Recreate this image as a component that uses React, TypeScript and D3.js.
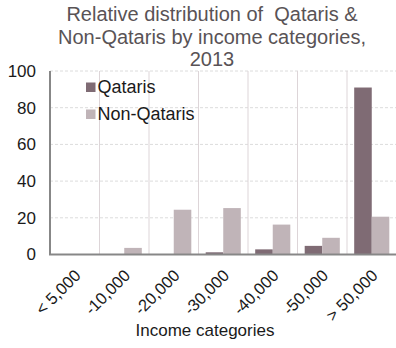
import React from 'react';
import * as d3 from 'd3';

const categories = ['< 5,000', '-10,000', '-20,000', '-30,000', '-40,000', '-50,000', '> 50,000'];
const seriesNames = ['Qataris', 'Non-Qataris'];
const qataris = [0, 0, 0, 1.2, 2.8, 4.7, 91];
const nonQataris = [0, 3.6, 24.4, 25.3, 16.3, 9.1, 20.6];
const yTicks = [0, 20, 40, 60, 80, 100];
const titleLines = ['Relative distribution of  Qataris &', 'Non-Qataris by income categories,', '2013'];
const xTitle = 'Income categories';

const W = 396;
const H = 348;
const FONT = '"Liberation Sans", Arial, sans-serif';
const colors = ['#7f6b74', '#c0b4b8'];

export default function App() {
  const left = 50;
  const right = 396.5;
  const top = 71;
  const bottom = 254.5;

  const x = d3.scaleBand<string>().domain(categories).range([left, right]).paddingInner(0).paddingOuter(0);
  const xs = d3.scaleBand<string>().domain(seriesNames).range([0, x.bandwidth()]).paddingInner(0).paddingOuter(0.41);
  const y = d3.scaleLinear().domain([0, 100]).range([bottom, top]);

  const series = [qataris, nonQataris];

  return (
    <svg width={W} height={H} style={{ position: 'absolute', left: 0, top: 0, background: '#fff' }} fontFamily={FONT}>
      <rect x={0} y={0} width={W} height={H} fill="#fff" />
      {titleLines.map((t, i) => (
        <text key={i} x={212} y={21 + i * 22.5} textAnchor="middle" fontSize={20} fill="#595356" style={{ whiteSpace: 'pre' }}>
          {t}
        </text>
      ))}
      {/* horizontal gridlines */}
      {yTicks.filter((t) => t > 0).map((t) => (
        <line key={t} x1={left} x2={right} y1={y(t)} y2={y(t)} stroke="#dcdcdc" strokeWidth={1} strokeDasharray="3,2" />
      ))}
      {/* vertical gridlines */}
      {categories.slice(1).map((c) => (
        <line key={c} x1={x(c)!} x2={x(c)!} y1={top} y2={bottom} stroke="#ddd5d8" strokeWidth={1} />
      ))}
      {/* bars */}
      {series.map((vals, si) =>
        vals.map((v, ci) => (
          <rect
            key={`${si}-${ci}`}
            x={x(categories[ci])! + xs(seriesNames[si])!}
            y={y(v)}
            width={xs.bandwidth()}
            height={bottom - y(v)}
            fill={colors[si]}
          />
        ))
      )}
      {/* axes */}
      <line x1={left} x2={left} y1={top} y2={bottom} stroke="#878787" strokeWidth={2} />
      <line x1={left - 1} x2={right} y1={bottom} y2={bottom} stroke="#878787" strokeWidth={2} />
      {yTicks.map((t) => (
        <text key={t} x={36} y={y(t)} dy="0.35em" textAnchor="end" fontSize={17} fill="#1a1a1a">
          {t}
        </text>
      ))}
      {categories.map((c) => (
        <text
          key={c}
          transform={`translate(${x(c)! + x.bandwidth() / 2 + 7},${bottom + 22}) rotate(-45)`}
          textAnchor="end"
          fontSize={16.5}
          fill="#1a1a1a"
        >
          {c}
        </text>
      ))}
      <text x={205} y={336} textAnchor="middle" fontSize={17} fill="#1a1a1a">
        {xTitle}
      </text>
      {/* legend */}
      {seriesNames.map((s, i) => (
        <g key={s} transform={`translate(86,${87 + i * 27})`}>
          <rect x={0} y={-4.5} width={9.5} height={9.5} fill={colors[i]} />
          <text x={11.5} y={0} dy="0.35em" fontSize={18} fill="#1a1a1a">
            {s}
          </text>
        </g>
      ))}
    </svg>
  );
}
